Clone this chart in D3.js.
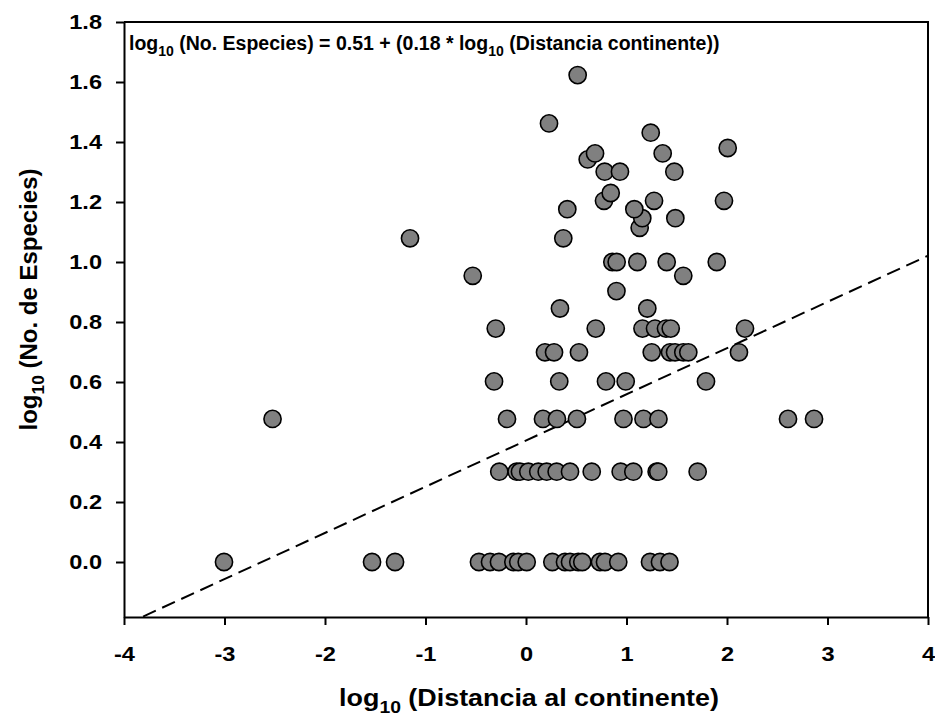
<!DOCTYPE html>
<html>
<head>
<meta charset="utf-8">
<script src="https://cdn.jsdelivr.net/npm/d3@7"></script>
<style>
  body { margin: 0; background: white; }
  text { font-family: Arial, "Liberation Sans", sans-serif; font-weight: bold; fill: black; }
</style>
</head>
<body>
<script>
// log10 distance to mainland (x) and log10 number of species (y), row by row
const distancia = [
  -3.005, -1.532, -1.303, -0.468, -0.358, -0.269, -0.126, -0.077, 0.007, 0.262,
  0.388, 0.438, 0.52, 0.56, 0.736, 0.786, 0.918, 1.234, 1.333, 1.428,       // 0.000
  -0.266, -0.093, -0.06, 0.023, 0.122, 0.206, 0.305, 0.438, 0.654, 0.942,
  1.068, 1.3, 1.316, 1.708,                                                  // 0.301
  -2.522, -0.189, 0.169, 0.308, 0.507, 0.97, 1.169, 1.318, 2.607, 2.866,     // 0.477
  -0.318, 0.331, 0.796, 0.992, 1.791,                                        // 0.602
  0.189, 0.279, 0.527, 1.251, 1.433, 1.483, 1.565, 1.615, 2.119,             // 0.699
  -0.301, 0.694, 1.159, 1.284, 1.393, 1.44, 2.179,                           // 0.778
  0.338, 1.207,                                                              // 0.845
  0.9,                                                                       // 0.903
  -0.53, 1.565,                                                              // 0.954
  0.859, 0.902, 1.108, 1.4, 1.898,                                           // 1.000
  -1.154, 0.371,                                                             // 1.079
  1.131,                                                                     // 1.114
  1.157, 1.486,                                                              // 1.146
  0.411, 1.078,                                                              // 1.176
  0.776, 1.274, 1.97,                                                        // 1.204
  0.843,                                                                     // 1.230
  0.783, 0.935, 1.476,                                                       // 1.301
  0.614,                                                                     // 1.342
  0.687, 1.36,                                                               // 1.362
  2.007,                                                                     // 1.380
  1.241,                                                                     // 1.431
  0.229,                                                                     // 1.462
  0.514                                                                      // 1.623
]
const especies = [
  0,0,0,0,0,0,0,0,0,0,0,0,0,0,0,0,0,0,0,0,
  0.301,0.301,0.301,0.301,0.301,0.301,0.301,0.301,0.301,0.301,0.301,0.301,0.301,0.301,
  0.477,0.477,0.477,0.477,0.477,0.477,0.477,0.477,0.477,0.477,
  0.602,0.602,0.602,0.602,0.602,
  0.699,0.699,0.699,0.699,0.699,0.699,0.699,0.699,0.699,
  0.778,0.778,0.778,0.778,0.778,0.778,0.778,
  0.845,0.845,
  0.903,
  0.954,0.954,
  1,1,1,1,1,
  1.079,1.079,
  1.114,
  1.146,1.146,
  1.176,1.176,
  1.204,1.204,1.204,
  1.23,
  1.301,1.301,1.301,
  1.342,
  1.362,1.362,
  1.38,
  1.431,
  1.462,
  1.623
]
const xTicks = [-4, -3, -2, -1, 0, 1, 2, 3, 4]
const yTicks = [0, 0.2, 0.4, 0.6, 0.8, 1.0, 1.2, 1.4, 1.6, 1.8]
// dashed regression line as drawn
const fitIntercept = 0.405
const fitSlope = 0.154
const ecuacion = ["log", "10", " (No. Especies) = 0.51 + (0.18 * log", "10", " (Distancia continente))"]

const [width, height] = [935, 728]
const m = { left: 124, right: 928, top: 22, bottom: 617 }
const stretch = 1.18   // the source picture is a bit wider than tall

const x = d3.scaleLinear().domain([-4, 4]).range([m.left, m.right])
const y = d3.scaleLinear().domain([-0.1833, 1.8]).range([m.bottom, m.top])

const svg = d3.select("body").append("svg")
    .attr("width", width)
    .attr("height", height)

svg.append("clipPath").attr("id", "plot")
  .append("rect")
    .attr("x", m.left).attr("y", m.top)
    .attr("width", m.right - m.left).attr("height", m.bottom - m.top)

// regression line
svg.append("line")
    .attr("clip-path", "url(#plot)")
    .attr("x1", x(-4)).attr("y1", y(fitIntercept + fitSlope * -4))
    .attr("x2", x(4)).attr("y2", y(fitIntercept + fitSlope * 4))
    .attr("stroke", "black")
    .attr("stroke-width", 2)
    .attr("stroke-dasharray", "14,7")

// points
svg.append("g")
  .selectAll("circle")
  .data(distancia.map((d, i) => [d, especies[i]]))
  .join("circle")
    .attr("cx", d => x(d[0]))
    .attr("cy", d => y(d[1]))
    .attr("r", 8.6)
    .attr("fill", "#808080")
    .attr("stroke", "black")
    .attr("stroke-width", 1.6)

// axes
const xAxis = svg.append("g")
    .attr("transform", `translate(0,${m.bottom})`)
    .call(d3.axisBottom(x).tickValues(xTicks).tickFormat(d => String(d)).tickSize(8).tickPadding(22).tickSizeOuter(0))
const yAxis = svg.append("g")
    .attr("transform", `translate(${m.left},0)`)
    .call(d3.axisLeft(y).tickValues(yTicks).tickFormat(d => d.toFixed(1)).tickSize(8).tickPadding(14 / stretch - 8 + 8 / stretch).tickSizeOuter(0))

for (const ax of [xAxis, yAxis]) {
  ax.selectAll("path, line").attr("stroke", "black").attr("stroke-width", 2)
  ax.selectAll("text")
    .attr("font-family", "Arial, 'Liberation Sans', sans-serif")
    .attr("font-weight", "bold")
    .attr("font-size", 20)
    .attr("fill", "black")
    .attr("transform", `scale(${stretch},1)`)
}

// frame top and right
svg.append("path")
    .attr("d", `M${m.left},${m.top}H${m.right}V${m.bottom}`)
    .attr("fill", "none")
    .attr("stroke", "black")
    .attr("stroke-width", 2)

function subLabel(sel, parts, size) {
  parts.forEach((p, i) => {
    const sub = i % 2 == 1
    sel.append("tspan")
      .attr("font-size", sub ? size * 0.72 : size)
      .attr("dy", sub ? size * 0.3 : (i > 0 ? -size * 0.3 : 0))
      .text(p)
  })
}

// equation
svg.append("text")
    .attr("x", 129)
    .attr("y", 50)
    .call(subLabel, ecuacion, 19.5)

// axis titles
svg.append("text")
    .attr("transform", `translate(${(m.left + m.right) / 2 + 3},706) scale(1.12,1)`)
    .attr("text-anchor", "middle")
    .call(subLabel, ["log", "10", " (Distancia al continente)"], 24)

svg.append("text")
    .attr("transform", `translate(37,${(m.top + m.bottom) / 2 - 20}) rotate(-90)`)
    .attr("text-anchor", "middle")
    .call(subLabel, ["log", "10", " (No. de Especies)"], 24)
</script>
</body>
</html>
